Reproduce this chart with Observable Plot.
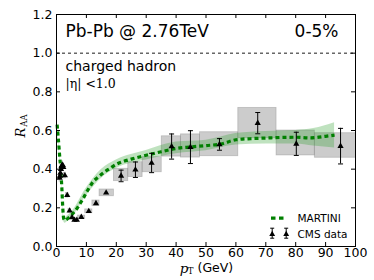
<!DOCTYPE html>
<html><head><meta charset="utf-8">
<script src="https://cdn.jsdelivr.net/npm/d3@7"></script>
<script src="https://cdn.jsdelivr.net/npm/@observablehq/plot@0.6"></script>
<style>body{margin:0;background:#fff}</style>
</head><body><div id="chart"></div>
<script>
// ---- data ----
const xTicks = [0,10,20,30,40,50,60,70,80,90,100];
const yTicks = [0,0.2,0.4,0.6,0.8,1.0,1.2];
const refLine = [1.0];

// CMS charged hadron R_AA, 0-5%
const cmsLo  = [1.0,1.1,1.2,1.4,1.6,1.8,2.0,2.2,2.4,3.2,4.0,4.8,5.6,6.4,7.2,9.6,12.0,14.4,19.2,24.0,28.8,35.2,41.6,48.0,60.8,73.6,86.4];
const cmsHi  = [1.1,1.2,1.4,1.6,1.8,2.0,2.2,2.4,3.2,4.0,4.8,5.6,6.4,7.2,9.6,12.0,14.4,19.2,24.0,28.8,35.2,41.6,48.0,60.8,73.6,86.4,103.6];
const cmsPt  = [1.05,1.15,1.3,1.5,1.7,1.9,2.1,2.3,2.8,3.6,4.4,5.2,6.0,6.8,8.3,10.8,13.2,16.6,21.6,26.4,31.8,38.5,44.8,54.5,67.3,80.2,95.0];
const cmsR   = [0.355,0.365,0.38,0.40,0.415,0.42,0.42,0.41,0.367,0.265,0.185,0.15,0.137,0.137,0.152,0.182,0.223,0.278,0.365,0.397,0.432,0.517,0.514,0.528,0.638,0.531,0.519];
const cmsErr = [0.003,0.003,0.003,0.003,0.003,0.003,0.003,0.003,0.003,0.003,0.003,0.003,0.003,0.003,0.003,0.004,0.005,0.007,0.03,0.04,0.05,0.065,0.085,0.03,0.055,0.06,0.092];
const cmsSysLo = [0.335,0.345,0.36,0.38,0.395,0.40,0.40,0.39,0.352,0.253,0.175,0.142,0.129,0.129,0.144,0.172,0.209,0.26,0.338,0.359,0.384,0.465,0.46,0.467,0.56,0.471,0.459];
const cmsSysHi = [0.375,0.385,0.40,0.42,0.435,0.44,0.44,0.43,0.382,0.277,0.195,0.158,0.145,0.145,0.160,0.192,0.238,0.295,0.402,0.436,0.462,0.57,0.58,0.591,0.717,0.60,0.586];

// MARTINI curve
const martiniPt = [0.2,0.6,1.0,1.4,1.8,2.1,2.4,2.8,3.4,4.0,5.0,6.0,7.0,8.0,9.0,10,11,12,14,16,18,20,22,25,30,35,40,45,50,55,60,65,70,75,80,85,90,93];
const martiniR  = [0.63,0.56,0.48,0.40,0.30,0.20,0.145,0.135,0.14,0.148,0.162,0.18,0.20,0.225,0.25,0.28,0.305,0.33,0.36,0.385,0.405,0.425,0.438,0.452,0.472,0.49,0.507,0.515,0.522,0.53,0.552,0.558,0.561,0.564,0.565,0.562,0.57,0.576];
// MARTINI uncertainty band
const bandPt = [0.2,0.6,1.0,1.4,1.8,2.1,2.4,2.8,4.0,5,10,15,20,30,40,50,60,70,80,86,93];
const bandLo = [0.615,0.545,0.465,0.385,0.285,0.185,0.13,0.12,0.133,0.147,0.262,0.352,0.403,0.447,0.48,0.495,0.525,0.53,0.53,0.52,0.51];
const bandHi = [0.645,0.575,0.495,0.415,0.315,0.215,0.16,0.15,0.163,0.177,0.302,0.398,0.447,0.497,0.54,0.55,0.585,0.595,0.60,0.61,0.64];

// ---- tables ----
const cms = cmsPt.map((pt,i)=>({pt, r:cmsR[i], err:cmsErr[i], lo:cmsLo[i], hi:cmsHi[i], sLo:cmsSysLo[i], sHi:cmsSysHi[i]}));
const cmsBars = cms.filter(d=>d.err>0.01);
const martini = martiniPt.map((pt,i)=>({pt, r:martiniR[i]}));
const band = bandPt.map((pt,i)=>({pt, lo:bandLo[i], hi:bandHi[i]}));

// ---- layout ----
const W = 374, H = 280, mL = 56, mR = 19, mT = 14, mB = 34;
const fw = W - mL - mR, fh = H - mT - mB, tk = 4;
const sans = "DejaVu Sans", serif = "DejaVu Serif";

const capSym = {draw(c){ c.moveTo(-2.5,0); c.lineTo(2.5,0); }};
const dashSym = {draw(c){
  c.moveTo(-6.5,-1.6); c.lineTo(-2,-1.6); c.lineTo(-2,1.6); c.lineTo(-6.5,1.6); c.closePath();
  c.moveTo(1.5,-1.6); c.lineTo(6,-1.6); c.lineTo(6,1.6); c.lineTo(1.5,1.6); c.closePath();
}};
const errSym = {draw(c){
  c.moveTo(0,-5); c.lineTo(0,5);
  c.moveTo(-2,-5); c.lineTo(2,-5);
  c.moveTo(-2,5); c.lineTo(2,5);
}};
const legendCms = [-83.3, -69.3];

const chart = Plot.plot({
  width: W, height: H,
  marginLeft: mL, marginRight: mR, marginTop: mT, marginBottom: mB,
  style: {fontFamily: sans, background: "#fff"},
  x: {domain: [0,100]},
  y: {domain: [0,1.2]},
  marks: [
    Plot.rect(cms, {x1:"lo", x2:"hi", y1:"sLo", y2:"sHi", fill:"#808080", fillOpacity:0.4, stroke:"#808080", strokeOpacity:0.4, strokeWidth:0.8, clip:true}),
    Plot.areaY(band, {x:"pt", y1:"lo", y2:"hi", fill:"#2ca02c", fillOpacity:0.3, curve:"monotone-x"}),
    Plot.line(martini, {x:"pt", y:"r", stroke:"#008000", strokeWidth:3.2, strokeDasharray:"4,3", strokeLinecap:"butt", strokeLinejoin:"miter", curve:"monotone-x"}),
    Plot.ruleY(refLine, {stroke:"#000", strokeWidth:0.9, strokeDasharray:"3,3"}),
    Plot.ruleX(cmsBars, {x:"pt", y1:d=>d.r-d.err, y2:d=>d.r+d.err, stroke:"#000", strokeWidth:1}),
    Plot.dot(cmsBars, {x:"pt", y:d=>d.r+d.err, symbol:capSym, r:3, fill:"none", stroke:"#000", strokeWidth:1}),
    Plot.dot(cmsBars, {x:"pt", y:d=>d.r-d.err, symbol:capSym, r:3, fill:"none", stroke:"#000", strokeWidth:1}),
    Plot.dot(cms, {x:"pt", y:"r", symbol:"triangle", r:2.3, fill:"#000", stroke:"none"}),
    // frame + inward ticks
    Plot.frame({stroke:"#000", strokeWidth:1}),
    Plot.ruleX(xTicks, {x:d=>d, insetTop: fh - tk, stroke:"#000"}),
    Plot.ruleX(xTicks, {x:d=>d, insetBottom: fh - tk, stroke:"#000"}),
    Plot.ruleY(yTicks, {y:d=>d, insetRight: fw - tk, stroke:"#000"}),
    Plot.ruleY(yTicks, {y:d=>d, insetLeft: fw - tk, stroke:"#000"}),
    Plot.axisX(xTicks, {tickSize:0, tickPadding:2, fontSize:12.5, label:null, fill:"#000"}),
    Plot.axisY(yTicks, {tickSize:0, tickPadding:4, fontSize:12.5, tickFormat:d3.format(".1f"), label:null, fill:"#000"}),
    // in-plot texts
    Plot.text(["Pb-Pb @ 2.76TeV"], {frameAnchor:"top-left", dx:9, dy:10, textAnchor:"start", lineAnchor:"top", fontSize:17, fill:"#000"}),
    Plot.text(["0-5%"], {frameAnchor:"top-right", dx:-17, dy:10, textAnchor:"end", lineAnchor:"top", fontSize:17, fill:"#000"}),
    Plot.text(["charged hadron"], {frameAnchor:"top-left", dx:9, dy:47, textAnchor:"start", lineAnchor:"top", fontSize:14, fill:"#000"}),
    Plot.text(["|η| <1.0"], {frameAnchor:"top-left", dx:9, dy:64.5, textAnchor:"start", lineAnchor:"top", fontSize:12.5, fontFamily:serif, fill:"#000"}),
    // axis labels
    Plot.text(["R"], {frameAnchor:"left", dx:-36, dy:2, rotate:-90, textAnchor:"middle", lineAnchor:"middle", fontSize:13, fontFamily:serif, fontStyle:"italic", fill:"#000"}),
    Plot.text(["AA"], {frameAnchor:"left", dx:-32, dy:-10, rotate:-90, textAnchor:"middle", lineAnchor:"middle", fontSize:8.5, fontFamily:serif, fill:"#000"}),
    Plot.text(["p"], {frameAnchor:"bottom", dx:-22, dy:16.5, textAnchor:"middle", lineAnchor:"top", fontSize:13.5, fontFamily:serif, fontStyle:"italic", fill:"#000"}),
    Plot.text(["T"], {frameAnchor:"bottom", dx:-15.5, dy:21.5, textAnchor:"middle", lineAnchor:"top", fontSize:8.5, fontFamily:serif, fill:"#000"}),
    Plot.text(["(GeV)"], {frameAnchor:"bottom", dx:-8.5, dy:17, textAnchor:"start", lineAnchor:"top", fontSize:12.5, fill:"#000"}),
    // legend
    Plot.dot([0], {frameAnchor:"bottom-right", dx:-78, dy:-28.3, symbol:dashSym, r:3, fill:"#008000", stroke:"none"}),
    Plot.text(["MARTINI"], {frameAnchor:"bottom-right", dx:-58, dy:-32, textAnchor:"start", lineAnchor:"top", fontSize:10.5, fill:"#000"}),
    ...legendCms.flatMap(dx => [
      Plot.dot([0], {frameAnchor:"bottom-right", dx, dy:-13.3, symbol:errSym, r:3, fill:"none", stroke:"#000", strokeWidth:1}),
      Plot.dot([0], {frameAnchor:"bottom-right", dx, dy:-12.3, symbol:"triangle", r:2.2, fill:"#000", stroke:"none"})
    ]),
    Plot.text(["CMS data"], {frameAnchor:"bottom-right", dx:-58, dy:-16, textAnchor:"start", lineAnchor:"top", fontSize:10.5, fill:"#000"})
  ]
});
document.getElementById("chart").append(chart);
</script>
</body></html>
